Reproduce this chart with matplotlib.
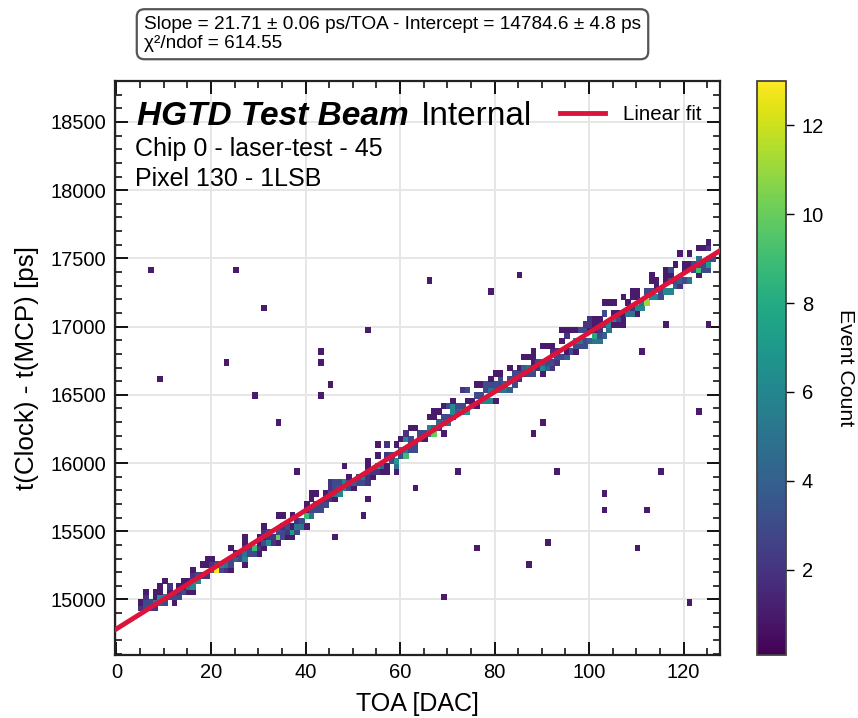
import numpy as np
import matplotlib
matplotlib.use("Agg")
import matplotlib.pyplot as plt
from matplotlib.ticker import MultipleLocator

plt.rcParams['font.family'] = ['Liberation Sans', 'DejaVu Sans']

slope = 21.71
intercept = 14784.6
colorbar_ticks = [2, 4, 6, 8, 10, 12]
x_ticks = [0, 20, 40, 60, 80, 100, 120]
y_ticks = [15000, 15500, 16000, 16500, 17000, 17500, 18000, 18500]

first_toa = 5
band_t = [
 [14960,14920],[15040,15000,14960,14920],[14960,14920],[15040,15000,14960,14920],[15080,15040,15000,14960],
 [15120,15000,14960],[15080,15040,15000],[15000,14960],[15080,15040,15000],[15120,15080,15040],
 [15120,15080,15040],[15200,15160,15120,15080,15040],[15160,15120],[15240,15160],[15280,15240,15160],
 [15280,15240,15200],[15240,15200],[15240,15200],[15240,15200],[15360,15280,15240,15200],
 [15320,15280],[15320,15280],[15440,15400,15360,15320,15280,15240],[15360,15320],[15360,15320],
 [15440,15400,15360,15320],[15520,15480,15440,15400,15360],[15480,15440,15400],[15440,15400],[15600,15480,15440,15400],
 [15600,15520,15480,15440],[15520,15480,15440],[15600,15520,15480,15440],[15560,15520,15480],[15560,15520],
 [15680,15640,15600,15520],[15760,15720,15640,15600],[15760,15680,15640],[15680,15640],[15760,15720,15680],
 [15840,15800,15760,15720],[15840,15800,15760,15720],[15840,15800,15760],[15960,15840,15800],[15880,15840,15800],
 [15840,15800],[15880,15840],[15880,15840],[16000,15960,15920,15880,15840],[15920,15880],
 [16120,16040,15960,15920],[15960,15920],[16120,16040,15960,15920],[16040,16000],[16120,16000,15960,15920],
 [16160,16080,16040],[16200,16160,16080,16040],[16240,16160,16120,16080],[16240,16120,16080],[16200,16160],
 [16200,16160],[16320,16240,16200],[16360,16320,16240,16200],[16360,16280,16240],[16400,16320,16280,16200],
 [16400,16320,16280],[16440,16400,16360,16320],[16400,16360],[16520,16400,16360],[16520,16440,16360],
 [16440,16400],[16560,16480,16400],[16560,16480,16440],[16560,16520,16440],[16600,16560,16520,16440],
 [16640,16560,16520,16440],[16640,16600,16560,16520],[16560,16520],[16680,16600,16520],[16640,16600,16560],
 [16680,16640,16600],[16760,16680,16640],[16760,16680,16640],[16800,16760,16720,16680,16640],[16720,16680],
 [16840,16720,16680,16640],[16840,16720,16680],[16840,16800,16720,16680],[16800,16760,16720],[16960,16880,16760],
 [16960,16920,16800,16760],[16960,16800],[16960,16880,16840,16800],[16960,16880,16840],[17000,16960,16880,16840],
 [17040,17000,16960,16880],[17040,17000,16960,16920,16880],[17040,17000,16960,16920,16880],[17160,17080,17000,16920],[17160,17000,16960],
 [17160,17080,17040,17000],[17080,17040,17000],[17200,17080,17040,17000],[17160,17080],[17240,17200,17120,17080],
 [17240,17200,17120,17080],[17160,17120],[17240,17160],[17360,17320,17240,17200],[17320,17280,17200],
 [17240,17200],[17400,17360,17320,17240],[17400,17360,17320,17240],[17440,17320,17280],[17520,17320,17280],
 [17440,17400,17320],[17520,17440,17320],[17440,17400],[17560,17480,17440,17400,17360],[17560,17440,17400],
 [17600,17560,17480,17440,17400],[17480],
]
band_count = [
 [1,2],[1,2,3,3],[3,2],[1,1,5,2],[1,1,6,4],
 [1,6,3],[2,1,3],[3,1],[1,2,3],[1,1,3],
 [1,5,1],[1,2,8,6,1],[3,6],[1,2],[1,1,2],
 [1,2,4],[3,13],[6,3],[5,2],[1,3,3,1],
 [1,4],[3,3],[1,1,2,5,6,1],[3,3],[9,3],
 [1,1,2,1],[1,2,1,3,1],[3,2,6],[2,2],[1,3,10,1],
 [1,2,3,3],[3,2,1],[1,1,7,1],[2,5,3],[3,5],
 [1,1,9,1],[1,1,3,5],[1,3,3],[3,3],[1,2,3],
 [2,2,3,2],[3,3,5,1],[3,4,6],[1,6,6],[1,3,3],
 [4,1],[3,3],[5,3],[1,1,3,2,2],[2,1],
 [1,1,7,2],[4,1],[2,2,1,1],[3,3],[1,7,5,1],
 [1,5,3],[2,6,5,9],[1,3,3,3],[1,3,3],[3,4],
 [3,1],[1,6,5],[1,1,4,10],[1,4,2],[1,3,4,1],
 [3,3,5],[1,6,6,3],[3,4],[2,3,6],[3,1,7],
 [1,6],[1,3,1],[1,3,5],[3,3,6],[1,3,5,6],
 [1,3,4,1],[1,3,3,5],[4,5],[1,3,4],[3,4,3],
 [1,3,2],[1,4,2],[1,5,3],[1,1,1,6,3],[3,2],
 [1,4,6,1],[1,3,4],[1,2,3,2],[2,3,2],[1,1,3],
 [1,2,1,4],[1,3],[1,6,3,1],[3,5,3],[2,3,3,3],
 [2,2,1,4],[1,1,1,8,5],[1,1,2,3,5],[1,3,3,4],[1,6,5],
 [1,1,6,1],[1,3,1],[1,1,1,1],[1,5],[1,1,2,5],
 [1,1,6,1],[5,6],[3,11],[1,1,3,6],[1,1,6],
 [3,3],[1,1,1,6],[3,1,3,6],[1,3,4],[1,4,2],
 [1,1,3],[1,1,5],[3,3],[1,5,3,9,1],[1,3,3],
 [1,2,4,7,3],[3],
]
outlier_toa = [7,25,31,53,23,43,43,9,45,29,43,34,38,46,52,53,63,72,66,79,85,69,76,87,91,110,103,103,112,115,93,90,88,121,123,111,116,125]
outlier_t = [17400,17400,17120,16960,16720,16800,16720,16600,16560,16480,16480,16280,15920,15440,15600,15720,15800,15920,17320,17240,17360,15000,15360,15240,15400,15360,15760,15640,15640,15920,15920,16280,16200,14960,16360,16800,17000,17000]

fig = plt.figure(figsize=(8.58, 7.18), dpi=100)
W, H = 858, 718
ax = fig.add_axes([114.5/W, 1-655/H, 606/W, 574/H])
cax = fig.add_axes([757/W, 1-655/H, 29/W, 574/H])

x_edges = np.arange(-0.35, 128, 1.0)
y_edges = np.arange(14600, 18840, 40.0)
grid = np.full((len(y_edges)-1, len(x_edges)-1), np.nan)
for i, (ts, cs) in enumerate(zip(band_t, band_count, strict=True)):
    for t, c in zip(ts, cs, strict=True):
        grid[int((t-14600)/40), first_toa + i] = c
for x, t in zip(outlier_toa, outlier_t, strict=True):
    grid[int((t-14600)/40), x] = 1

ax.grid(True, color='#e6e6e6', lw=1.4, zorder=0)
ax.set_axisbelow(True)
m = ax.pcolormesh(x_edges, y_edges, grid, cmap='viridis', vmin=0.08, vmax=13, zorder=2,
                  edgecolors='face', linewidth=0.7)
xl = np.array([-0.42, 127.8])
line, = ax.plot(xl, intercept + slope*xl, color='crimson', lw=3.5, zorder=3, label='Linear fit')
ax.set_xlim(*xl)
ax.set_ylim(14593, 18800)

ax.set_xticks(x_ticks)
ax.set_yticks(y_ticks)
ax.xaxis.set_minor_locator(MultipleLocator(5))
ax.yaxis.set_minor_locator(MultipleLocator(100))
ax.tick_params(which='both', direction='in', top=True, right=True, labelsize=14.5, width=1.3, pad=6)
ax.tick_params(which='major', length=9.5)
ax.tick_params(which='minor', length=4.8, width=1.1)
for s in ax.spines.values():
    s.set_linewidth(1.6)
    s.set_color('#222222')
ax.set_xlabel('TOA [DAC]', fontsize=18)
ax.set_ylabel('t(Clock) - t(MCP) [ps]', fontsize=18.7)
ax.xaxis.set_label_coords(0.5, (655-692)/574)
ax.yaxis.set_label_coords((27-114.5)/606, 0.5)
ax.yaxis.label.set_verticalalignment('center')

cb = fig.colorbar(m, cax=cax)
cb.set_ticks(colorbar_ticks)
cax.tick_params(labelsize=14.5, length=5.5, width=1, direction='out', which='major', pad=6)
cb.set_label('Event Count', rotation=270, fontsize=15.3, labelpad=22)
cb.outline.set_linewidth(1.3)
cb.outline.set_edgecolor('#444444')

leg = ax.legend(loc='upper right', frameon=False, fontsize=14.8, bbox_to_anchor=(1.0, 0.99), handlelength=2.2, handletextpad=0.9)

fig.text(137/W, 1-125/H, 'HGTD Test Beam', fontsize=24, fontweight='bold', fontstyle='italic')
fig.text(421/W, 1-125/H, 'Internal', fontsize=24)
fig.text(135/W, 1-156/H, 'Chip 0 - laser-test - 45', fontsize=18)
fig.text(135/W, 1-186/H, 'Pixel 130 - 1LSB', fontsize=18)
fig.text(144/W, 1-48/H, 'Slope = 21.71 ± 0.06 ps/TOA - Intercept = 14784.6 ± 4.8 ps\nχ²/ndof = 614.55',
         fontsize=13.7, linespacing=1.12,
         bbox=dict(boxstyle='round,pad=0.38,rounding_size=0.4', fc='white', ec='#555555', lw=1.6))

fig.savefig('out.png', dpi=100)
